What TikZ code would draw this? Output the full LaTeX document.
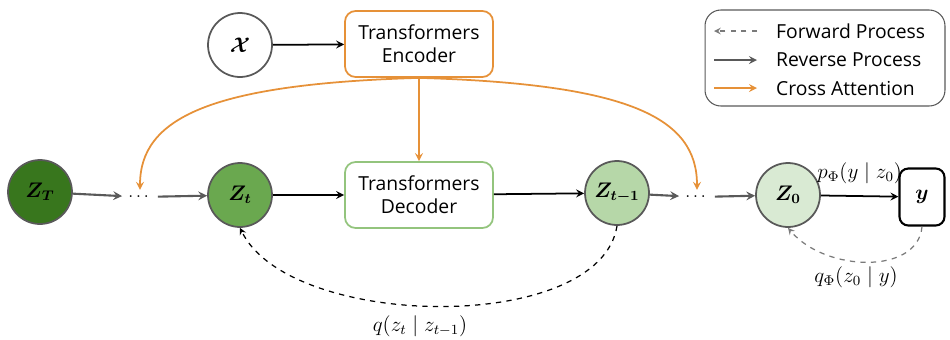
\documentclass[tikz,border=0pt]{standalone}
\usepackage{amsmath,bm}
\usepackage{fontspec}
\setsansfont{Open Sans}
\usetikzlibrary{arrows,positioning}

\definecolor{zdark}{HTML}{38761D}
\definecolor{zmid}{HTML}{6AA84F}
\definecolor{zlight}{HTML}{B6D7A8}
\definecolor{zpale}{HTML}{D9EAD3}
\definecolor{encorange}{HTML}{E69138}
\definecolor{decgreen}{HTML}{93C47D}
\definecolor{rimgray}{HTML}{595959}

\begin{document}
\begin{tikzpicture}[
    x=0.02cm, y=-0.02cm,
    latent/.style={circle, draw=rimgray, line width=1pt, minimum size=1.28cm, inner sep=0pt},
    block/.style={rectangle, rounded corners=6pt, draw, line width=1pt, minimum width=2.96cm, minimum height=1.32cm, align=center, font=\sffamily\fontsize{11}{13}\selectfont},
    arrow/.style={->, >=stealth, line width=1pt},
    grayarrow/.style={arrow, draw=rimgray, line width=1.2pt},
    crossarrow/.style={arrow, draw=encorange, line width=1pt},
    fwdarrow/.style={->, >=stealth, dashed, line width=0.7pt},
    lbl/.style={font=\fontsize{11.5}{13}\selectfont},
    legtext/.style={anchor=west, font=\sffamily\fontsize{11}{13}\selectfont}
]
\useasboundingbox (0,0) rectangle (950,339);

% Latente Zustaende
\node[latent, fill=zdark] (ZT) at (40,192) {\large$\bm{Z_{T}}$};
\node (dotsL) at (140,197) {$\dots$};
\node[latent, fill=zmid] (Zt) at (240,195) {\large$\bm{Z_{t}}$};
\node[latent, fill=zlight] (Ztm) at (617,193) {\large$\bm{Z_{t-1}}$};
\node (dotsR) at (697,197) {$\dots$};
\node[latent, fill=zpale] (Z0) at (788,195) {\large$\bm{Z_{0}}$};
\node[rectangle, rounded corners=5pt, draw, line width=1.2pt, minimum width=0.9cm, minimum height=1.14cm] (Y) at (922,197) {\large$\bm{y}$};

% Eingabe und Transformer
\node[latent, fill=white] (X) at (240,45) {\large$\bm{\mathcal{X}}$};
\node[block, draw=encorange] (Enc) at (419,44) {Transformers\\Encoder};
\node[block, draw=decgreen] (Dec) at (419,195) {Transformers\\Decoder};

% Rueckwaertsprozess
\draw[grayarrow] (ZT) -- (dotsL);
\draw[grayarrow] (dotsL) -- (Zt);
\draw[arrow] (Zt) -- (Dec);
\draw[arrow] (Dec) -- (Ztm);
\draw[grayarrow] (Ztm) -- (dotsR);
\draw[grayarrow] (dotsR) -- (Z0);
\draw[arrow] (Z0) -- node[above=3pt, lbl] {$p_{\Phi}(y \mid z_0)$} (Y);
\draw[arrow] (X) -- (Enc);

% Cross Attention
\draw[crossarrow] (Enc) -- (Dec);
\draw[crossarrow] (Enc.south) .. controls (210,84) and (140,118) .. (dotsL.north);
\draw[crossarrow] (Enc.south) .. controls (630,84) and (697,118) .. (dotsR.north);

% Vorwaertsprozess
\draw[fwdarrow] (Ztm.south) .. controls (600,335) and (290,330) .. (Zt.south);
\node[lbl] (qlab) at (420,326) {$q(z_t \mid z_{t-1})$};
\draw[fwdarrow, draw=rimgray!80] (Y.south) .. controls (918,275) and (825,272) .. (Z0.south);
\node[lbl] (qphilab) at (856,277) {$q_{\Phi}(z_0 \mid y)$};

% Legende
\node[rectangle, rounded corners=9pt, draw=rimgray, line width=0.6pt, minimum width=4.8cm, minimum height=1.92cm] (legend) at (825,58) {};
\coordinate (f1) at (757,31);
\coordinate (f0) at (714,31);
\draw[fwdarrow, draw=rimgray!80] (f1) -- (f0);
\node[legtext] (ftext) at (770,31) {Forward Process};
\coordinate (r0) at (714,60);
\coordinate (r1) at (757,60);
\draw[arrow, draw=rimgray] (r0) -- (r1);
\node[legtext] (rtext) at (770,60) {Reverse Process};
\coordinate (c0) at (714,88);
\coordinate (c1) at (757,88);
\draw[crossarrow] (c0) -- (c1);
\node[legtext] (ctext) at (770,88) {Cross Attention};

\end{tikzpicture}
\end{document}
